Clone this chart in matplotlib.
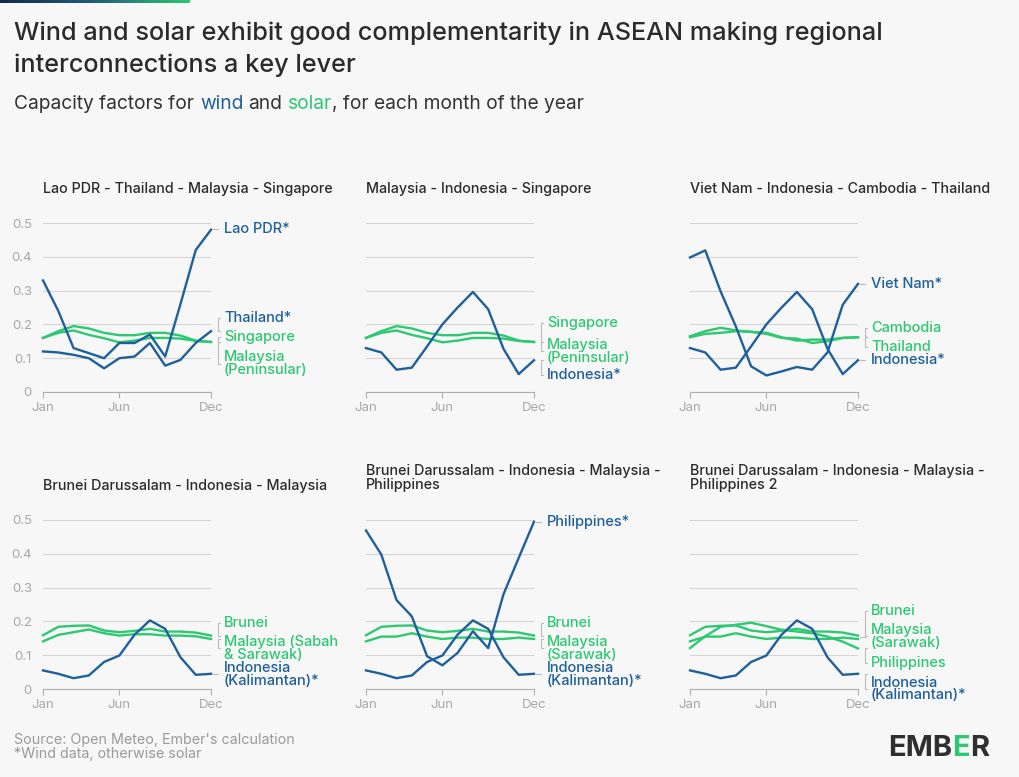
import numpy as np
import matplotlib
matplotlib.use('Agg')
import matplotlib.pyplot as plt
from matplotlib.colors import LinearSegmentedColormap
from matplotlib import font_manager
from matplotlib.ft2font import FT2Font

plt.rcParams['font.family'] = ['Inter', 'DejaVu Sans']

WIND = '#1f5f9c'
SOLAR = '#2ec873'
BG = '#f7f7f7'
GRID = '#d4d4d4'
AXGRAY = '#b0b0b0'

months = ['Jan', 'Feb', 'Mar', 'Apr', 'May', 'Jun', 'Jul', 'Aug', 'Sep', 'Oct', 'Nov', 'Dec']
tick_labels = ['Jan', 'Jun', 'Dec']
y_ticks = [0, 0.1, 0.2, 0.3, 0.4, 0.5]
y_tick_labels = ['0', '0.1', '0.2', '0.3', '0.4', '0.5']

# wind capacity factors
lao_wind = [0.33, 0.24, 0.13, 0.115, 0.10, 0.145, 0.145, 0.17, 0.105, 0.26, 0.42, 0.48]
thailand_wind = [0.12, 0.117, 0.11, 0.10, 0.07, 0.10, 0.105, 0.145, 0.078, 0.095, 0.145, 0.18]
indonesia_wind = [0.13, 0.117, 0.066, 0.072, 0.135, 0.20, 0.25, 0.296, 0.245, 0.128, 0.053, 0.094]
vietnam_wind = [0.398, 0.419, 0.298, 0.194, 0.076, 0.049, 0.061, 0.074, 0.066, 0.117, 0.258, 0.32]
kalimantan_wind = [0.055, 0.045, 0.032, 0.04, 0.08, 0.099, 0.161, 0.203, 0.178, 0.094, 0.042, 0.045]
philippines_wind = [0.469, 0.398, 0.263, 0.215, 0.097, 0.07, 0.107, 0.171, 0.121, 0.28, 0.388, 0.495]

# solar capacity factors
singapore_solar = [0.16, 0.18, 0.195, 0.188, 0.175, 0.168, 0.168, 0.175, 0.175, 0.167, 0.152, 0.148]
peninsular_solar = [0.16, 0.175, 0.182, 0.169, 0.159, 0.147, 0.152, 0.16, 0.16, 0.158, 0.151, 0.148]
cambodia_solar = [0.165, 0.18, 0.19, 0.182, 0.178, 0.172, 0.16, 0.158, 0.145, 0.15, 0.16, 0.162]
thailand_solar = [0.162, 0.172, 0.175, 0.18, 0.178, 0.175, 0.162, 0.152, 0.155, 0.155, 0.16, 0.162]
brunei_solar = [0.159, 0.184, 0.187, 0.188, 0.173, 0.168, 0.172, 0.178, 0.17, 0.17, 0.167, 0.158]
sabah_sarawak_solar = [0.141, 0.16, 0.168, 0.176, 0.165, 0.158, 0.162, 0.162, 0.158, 0.158, 0.156, 0.148]
sarawak_solar = [0.141, 0.155, 0.155, 0.165, 0.155, 0.148, 0.152, 0.152, 0.148, 0.148, 0.152, 0.148]
philippines_solar = [0.121, 0.156, 0.184, 0.19, 0.196, 0.186, 0.175, 0.17, 0.165, 0.155, 0.14, 0.12]

# (title, [(label, values, is_wind, label_y)])
panels = [
    ('Lao PDR - Thailand - Malaysia - Singapore', [
        ('Lao PDR*', lao_wind, True, 0.482),
        ('Thailand*', thailand_wind, True, 0.219),
        ('Singapore', singapore_solar, False, 0.163),
        ('Malaysia\n(Peninsular)', peninsular_solar, False, 0.083)]),
    ('Malaysia - Indonesia - Singapore', [
        ('Singapore', singapore_solar, False, 0.204),
        ('Malaysia\n(Peninsular)', peninsular_solar, False, 0.121),
        ('Indonesia*', indonesia_wind, True, 0.05)]),
    ('Viet Nam - Indonesia - Cambodia - Thailand', [
        ('Viet Nam*', vietnam_wind, True, 0.32),
        ('Cambodia', cambodia_solar, False, 0.189),
        ('Thailand', thailand_solar, False, 0.133),
        ('Indonesia*', indonesia_wind, True, 0.095)]),
    ('Brunei Darussalam - Indonesia - Malaysia', [
        ('Brunei', brunei_solar, False, 0.195),
        ('Malaysia (Sabah\n& Sarawak)', sabah_sarawak_solar, False, 0.121),
        ('Indonesia\n(Kalimantan)*', kalimantan_wind, True, 0.044)]),
    ('Brunei Darussalam - Indonesia - Malaysia -\nPhilippines', [
        ('Philippines*', philippines_wind, True, 0.494),
        ('Brunei', brunei_solar, False, 0.195),
        ('Malaysia\n(Sarawak)', sarawak_solar, False, 0.121),
        ('Indonesia\n(Kalimantan)*', kalimantan_wind, True, 0.044)]),
    ('Brunei Darussalam - Indonesia - Malaysia -\nPhilippines 2', [
        ('Brunei', brunei_solar, False, 0.231),
        ('Malaysia\n(Sarawak)', sarawak_solar, False, 0.154),
        ('Philippines', philippines_solar, False, 0.077),
        ('Indonesia\n(Kalimantan)*', kalimantan_wind, True, 0.0)]),
]

W, H = 1020, 777
fig = plt.figure(figsize=(W / 100, H / 100), dpi=100, facecolor=BG)
renderer = fig.canvas.get_renderer()

# gradient bar top left
gax = fig.add_axes([0, 1 - 3 / H, 190 / W, 3 / H])
cmap = LinearSegmentedColormap.from_list('ember', ['#18284a', '#1f5f7a', '#2ec873'])
gax.imshow(np.linspace(0, 1, 256)[None, :], aspect='auto', cmap=cmap)
gax.axis('off')

fig.text(14 / W, 1 - 33 / H, 'Wind and solar exhibit good complementarity in ASEAN making regional',
         fontsize=18.2, fontweight='medium', color='#2b2b2b', va='center')
fig.text(14 / W, 1 - 65 / H, 'interconnections a key lever',
         fontsize=18.2, fontweight='medium', color='#2b2b2b', va='center')


def text_w(s, **kw):
    t = fig.text(0, 0, s, **kw)
    w = t.get_window_extent(renderer).width
    t.remove()
    return w


def left_bearing(ch, fontsize, weight):
    path = font_manager.findfont(font_manager.FontProperties(family='Inter', weight=weight))
    f = FT2Font(path)
    f.set_size(fontsize, 100)
    g = f.load_char(ord(ch))
    return g.horiBearingX / 64


def multicolor(x0, y0, full, segments, fontsize, weight='normal', **kw):
    # segments are placed so their ink lines up with the full string's ink
    kw.update(fontsize=fontsize, fontweight=weight)
    lsb0 = left_bearing(full[0], fontsize, weight)
    pos = 0
    for seg, col in segments:
        start = full.index(seg, pos)
        end = start + len(seg)
        if start == 0:
            xs = 0
        else:
            xs = (text_w(full[:end], **kw) - text_w(seg, **kw)
                  + lsb0 - left_bearing(seg[0], fontsize, weight))
        fig.text(x0 + xs / W, y0, seg, color=col, **kw)
        pos = end


multicolor(14 / W, 1 - 104 / H, 'Capacity factors for wind and solar, for each month of the year',
           [('Capacity factors for', '#333333'), ('wind', WIND), ('and', '#333333'),
            ('solar', SOLAR), (', for each month of the year', '#333333')],
           13.8, va='center')

x = np.arange(12)
lefts = [43, 366, 690]
rows = [392, 689]
px_per_month = 168 / 11

for i, (title, series) in enumerate(panels):
    r, c = divmod(i, 3)
    ax = fig.add_axes([lefts[c] / W, 1 - rows[r] / H, 168 / W, 169 / H])
    ax.set_facecolor(BG)
    ax.set_xlim(0, 11)
    ax.set_ylim(0, 0.5)
    for s in ['top', 'right', 'left']:
        ax.spines[s].set_visible(False)
    ax.spines['bottom'].set_color(AXGRAY)
    ax.spines['bottom'].set_linewidth(0.8)
    ax.set_yticks(y_ticks)
    ax.yaxis.grid(True, color=GRID, linewidth=0.8)
    ax.set_axisbelow(True)
    ax.tick_params(axis='y', length=0, labelsize=9.5, labelcolor='#a8a8a8', pad=8)
    ax.set_yticklabels(y_tick_labels if c == 0 else [])
    ax.set_xticks([0, 5, 11])
    ax.set_xticklabels(tick_labels)
    ax.tick_params(axis='x', length=4, color=AXGRAY, labelsize=9.5, labelcolor='#a8a8a8', pad=3)

    ty = 1.0 + (41.5 if '\n' in title else 34) / 169
    ax.text(0, ty, title, transform=ax.transAxes, fontsize=10.3, fontweight='medium',
            color='#2b2b2b', va='center', ha='left', linespacing=1.0)

    for label, vals, is_wind, ly in series:
        ax.plot(x, vals, color=WIND if is_wind else SOLAR, lw=1.7, clip_on=False,
                solid_joinstyle='round', zorder=3 if is_wind else 2)

    for label, vals, is_wind, ly in series:
        col = WIND if is_wind else SOLAR
        ye = vals[-1]
        xc = 11 + 7 / px_per_month
        if abs(ye - ly) < 0.015:
            ax.plot([11 + 2 / px_per_month, xc], [ly, ly], color='#bbbbbb', lw=0.8, clip_on=False)
        else:
            tk = 2 / px_per_month
            ax.plot([xc + tk, xc, xc, xc + tk], [ye, ye, ly, ly], color='#bbbbbb', lw=0.8, clip_on=False)
        ax.text(11 + 13 / px_per_month, ly, label, color=col, fontsize=10.5, fontweight='medium',
                va='center', ha='left', linespacing=0.9, clip_on=False)

fig.text(14 / W, 1 - 740 / H, "Source: Open Meteo, Ember's calculation", fontsize=10.3, color='#9a9a9a', va='center')
fig.text(14 / W, 1 - 754 / H, '*Wind data, otherwise solar', fontsize=10.3, color='#9a9a9a', va='center')

multicolor(888 / W, 1 - 748 / H, 'EMBER', [('EMB', '#2f2f2f'), ('E', SOLAR), ('R', '#2f2f2f')],
           21, 'bold', va='center')

fig.savefig('out.png', dpi=100, facecolor=BG)
